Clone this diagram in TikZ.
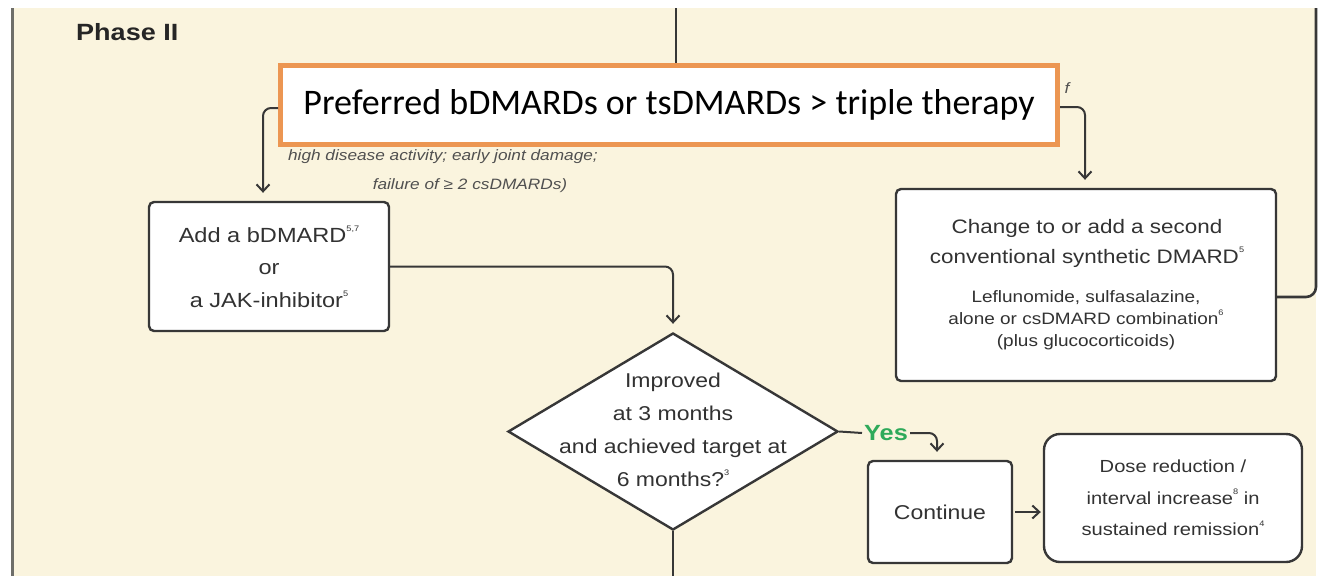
\documentclass[tikz,border=0pt]{standalone}
\usepackage{fontspec}
\setmainfont{Liberation Sans}[FakeStretch=1.15]
\newfontfamily\calib{Carlito}
\usetikzlibrary{shapes.geometric,arrows.meta}
\definecolor{cream}{RGB}{250,244,222}
\definecolor{ink}{RGB}{50,50,50}
\definecolor{linec}{RGB}{55,55,55}
\definecolor{framec}{RGB}{110,110,105}
\definecolor{orangeb}{RGB}{236,150,82}
\definecolor{yesgreen}{RGB}{46,170,90}
\definecolor{hint}{RGB}{80,80,80}
\newcommand{\supn}[1]{\raisebox{0.55em}{\fontsize{8}{8}\selectfont #1}}
\begin{document}
\begin{tikzpicture}[x=1pt,y=-1pt,
  every node/.style={text=ink, inner sep=0pt},
  box/.style={draw=linec, line width=2.4pt, fill=white, rounded corners=5pt, align=center},
  conn/.style={draw=linec, line width=2pt, rounded corners=8pt},
  tip/.style={-{Straight Barb[length=7pt,width=13pt]}},
  hidden/.style={font=\itshape\fontsize{15}{17}\selectfont, text=hint},
]
\useasboundingbox (0,0) rectangle (1325,576);
\fill[white] (0,0) rectangle (1325,576);
\fill[cream] (12,8) rectangle (1316,576);
\draw[framec, line width=3pt] (12,8) -- (12,576);

% heading
\node[anchor=west, font=\bfseries\fontsize{23.5}{26}\selectfont, text=black!85] (phase) at (76,32) {Phase II};

% criteria text partly covered by the callout
\node[hidden, anchor=east] (crit1) at (598,157) {high disease activity; early joint damage;};
\node[hidden] (crit2) at (470,186) {failure of ≥ 2 csDMARDs)};
\node[hidden] (critf) at (1067,88) {f};

% callout
\node[draw=orangeb, line width=5pt, fill=white, minimum width=777pt, minimum height=79pt,
      font=\calib\fontsize{36}{40}\selectfont, text=black] (pref) at (669,105)
      {Preferred bDMARDs or tsDMARDs > triple therapy};

% boxes
\node[box, minimum width=240pt, minimum height=129pt, font=\fontsize{20.5}{32.5}\selectfont] (addb) at (269,266.5)
  {Add a bDMARD\supn{5,7}\\or\\a JAK-inhibitor\supn{5}};

\node[box, minimum width=380pt, minimum height=192pt] (rbox) at (1086,285) {};
\node[align=center, font=\fontsize{19.5}{30}\selectfont] (rbig) at (1087,243)
  {Change to or add a second\\conventional synthetic DMARD\supn{5}};
\node[align=center, font=\fontsize{16.5}{22}\selectfont] (rsmall) at (1086,320)
  {Leflunomide, sulfasalazine,\\alone or csDMARD combination\supn{6}\\(plus glucocorticoids)};

\node[shape=diamond, draw=linec, line width=2.4pt, fill=white, minimum width=330pt, minimum height=197pt] (q) at (673,431.5) {};
\node[align=center, font=\fontsize{20}{33}\selectfont] (qt) at (673,430)
  {Improved\\at 3 months\\and achieved target at\\6 months?\supn{3}};

\node[font=\bfseries\fontsize{22}{24}\selectfont, text=yesgreen, inner xsep=2pt] (yes) at (886,433) {Yes};

\node[box, minimum width=144pt, minimum height=102pt, font=\fontsize{20}{24}\selectfont] (cont) at (940,512) {Continue};
\node[box, rounded corners=16pt, minimum width=258pt, minimum height=128pt, font=\fontsize{17.5}{31.5}\selectfont] (dose) at (1173,498)
  {Dose reduction /\\interval increase\supn{8} in\\sustained remission\supn{4}};

% connectors
\coordinate (topc) at (676,8);
\coordinate (rtop) at (1316,8);
\coordinate (qbot) at (673,576);
\draw[conn] (topc) -- (topc |- pref.north);
\draw[conn, tip] ([yshift=-3pt]pref.west) -| ([xshift=-6pt,yshift=8pt]addb.north);
\draw[conn, tip] ([yshift=-2pt]pref.east) -| ([xshift=-1pt,yshift=8pt]rbox.north);
\draw[conn, tip] (addb.east) -| ([yshift=8pt]q.north);
\draw[conn, line width=2.6pt, rounded corners=10pt] ([yshift=-12pt]rbox.east) -| (rtop);
\draw[conn] (q.south) -- (qbot);
\draw[conn] (q.east) -- (yes.west);
\draw[conn, tip] (yes.east) -| ([xshift=-3pt,yshift=8pt]cont.north);
\draw[conn, tip, shorten <=2pt, shorten >=2pt] (cont.east) -- (cont.east -| dose.west);
\end{tikzpicture}
\end{document}
